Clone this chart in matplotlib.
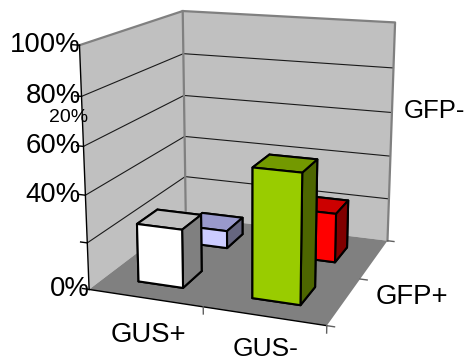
import numpy as np
import matplotlib
matplotlib.use("Agg")
import matplotlib.pyplot as plt
from mpl_toolkits.mplot3d.art3d import Poly3DCollection

plt.rcParams["font.family"] = ["Liberation Sans", "DejaVu Sans"]

# Chart values (percent)
categories = ["GUS+", "GUS-"]
series_names = ["GFP+", "GFP-"]
gfp_plus = [25, 54]
gfp_minus = [8, 22]
grid_levels = [0, 20, 40, 60, 80, 100]

# Bar colours: front, top, side
plus_colors = [("#FFFFFF", "#C0C0C0", "#808080"), ("#99CC00", "#739900", "#4D6600")]
minus_colors = [("#CCCCFF", "#9999CC", "#666680"), ("#FF0000", "#CC0000", "#800000")]

W, H = 466, 362
fig = plt.figure(figsize=(W / 100, H / 100), dpi=100)
ax = fig.add_axes([0, 0, 1, 1], projection="3d", computed_zorder=False)
ax.set_axis_off()
ax.patch.set_visible(False)
ax.apply_aspect()

# Oblique camera: fitted from where the box corners sit on the canvas
box_xyz = np.array([
    (0, 0, 0), (2, 0, 0), (2, 2, 0), (0, 2, 0),
    (0, 0, 100), (0, 2, 100), (2, 2, 100),
    (0, 0, 80), (0, 0, 60), (0, 0, 40), (0, 0, 20),
    (0, 2, 80), (0, 2, 60), (0, 2, 40), (0, 2, 20),
    (2, 2, 80), (2, 2, 60), (2, 2, 40), (2, 2, 20),
], float)
box_px = np.array([
    (89, 291), (326, 324), (389, 241), (186, 212),
    (80, 44), (183, 12), (395, 22),
    (82, 96), (84, 146), (85, 196), (87, 244),
    (183, 52), (184, 97), (184, 138), (185, 177),
    (393, 67), (392, 113), (390, 157), (389, 200),
], float)


def fit_camera():
    disp = np.column_stack([box_px[:, 0], H - box_px[:, 1]])
    uv = ax.transData.inverted().transform(disp)
    rows, rhs = [], []
    for (X, Y, Z), (u, v) in zip(box_xyz, uv):
        rows.append([X, Y, Z, 1, 0, 0, 0, 0, -u * X, -u * Y, -u * Z])
        rows.append([0, 0, 0, 0, X, Y, Z, 1, -v * X, -v * Y, -v * Z])
        rhs += [u, v]
    p = np.linalg.lstsq(np.array(rows), np.array(rhs), rcond=None)[0]
    return np.array([
        [p[0], p[1], p[2], p[3]],
        [p[4], p[5], p[6], p[7]],
        [0, 0, 0, -1],
        [p[8], p[9], p[10], 1],
    ])


camera = fit_camera()
ax.get_proj = lambda: camera

# Walls and floor
wall_verts = [[(0, 0, 0), (0, 2, 0), (0, 2, 100), (0, 0, 100)],
              [(0, 2, 0), (2, 2, 0), (2, 2, 100), (0, 2, 100)]]
ax.add_collection3d(Poly3DCollection(wall_verts, facecolor="#C0C0C0", edgecolor="none", zorder=1))
ax.add_collection3d(Poly3DCollection([[(0, 0, 0), (2, 0, 0), (2, 2, 0), (0, 2, 0)]],
                                     facecolor="#808080", edgecolor="none", zorder=2))

# Gridlines run along both walls
for level in grid_levels[1:-1]:
    ax.plot([0, 0, 2], [0, 2, 2], [level] * 3, color="#1A1A1A", lw=0.8, zorder=3)

# Wall borders
border = dict(color="#808080", lw=1.6, zorder=3)
ax.plot([0, 0, 2, 2], [0, 2, 2, 2], [100, 100, 100, 0], **border)
ax.plot([0, 0], [2, 2], [0, 100], **border)

# Value axis, category edge and tick marks
axis_style = dict(color="black", lw=1.0, zorder=4)
ax.plot([0, 0], [0, 0], [0, 100], **axis_style)
ax.plot([0, 2], [0, 0], [0, 0], **axis_style)
for level in grid_levels:
    ax.plot([-0.06, 0], [0, 0], [level, level], **axis_style)
for pos in [1, 2]:
    ax.plot([pos, pos], [0, 0], [-3, 0], color="#606060", lw=1.0, zorder=4)
for pos in [0, 1, 2]:
    ax.plot([2, 2.06], [pos, pos], [0, 0], color="#606060", lw=1.0, zorder=4)


def draw_bar(cat_idx, row_idx, value, colors, zorder):
    front, top, side = colors
    # bar3d face order: bottom, top, front, back, left, right
    faces = [side, top, front, side, side, side]
    ax.bar3d(cat_idx + 0.3, row_idx + 0.3, 0, 0.4, 0.4, value, color=faces,
             edgecolor="black", linewidth=1.5, shade=False, zorder=zorder)


# Back row first so the front row overlaps it
for i, value in enumerate(gfp_minus):
    draw_bar(i, 1, value, minus_colors[i], 5 + i)
for i, value in enumerate(gfp_plus):
    draw_bar(i, 0, value, plus_colors[i], 7 + i)

# Labels
value_labels = ["100%", "80%", "60%", "40%", "0%"]
value_label_y = [45, 96, 146, 195, 289]
for text, py in zip(value_labels, value_label_y):
    fig.text(81 / W if text != "0%" else 90 / W, 1 - py / H, text, fontsize=19.8, ha="right", va="center")
fig.text(88 / W, 1 - 118 / H, "20%", fontsize=14, ha="right", va="center")
fig.text(148.5 / W, 1 - 335 / H, categories[0], fontsize=19.8, ha="center", va="center")
fig.text(266 / W, 1 - 355.5 / H, categories[1], fontsize=19, ha="center", va="baseline")
fig.text(412 / W, 1 - 297 / H, series_names[0], fontsize=19.8, ha="center", va="center")
fig.text(434 / W, 1 - 111 / H, series_names[1], fontsize=18.5, ha="center", va="center")

fig.savefig("out.png", dpi=100)
